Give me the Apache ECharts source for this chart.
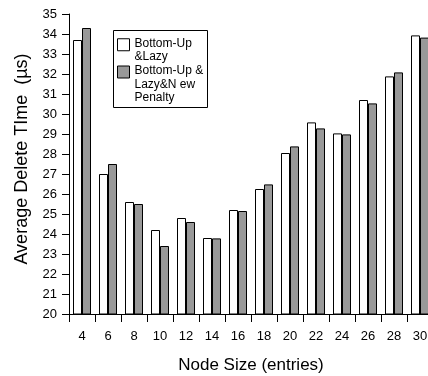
<!DOCTYPE html>
<html>
<head>
<meta charset="utf-8">
<script src="https://cdn.jsdelivr.net/npm/echarts@6/dist/echarts.min.js"></script>
<style>
html,body{margin:0;padding:0;background:#fff;}
#chart{width:428px;height:376px;}
</style>
</head>
<body>
<div id="chart"></div>
<script>
var categories = ['4','6','8','10','12','14','16','18','20','22','24','26','28','30'];
var seriesNames = ['Bottom-Up &Lazy', 'Bottom-Up & Lazy&N ew Penalty'];
var legendLines = [['Bottom-Up', '&Lazy'], ['Bottom-Up &', 'Lazy&N ew', 'Penalty']];
var lazyValues = [33.7, 27.0, 25.6, 24.2, 24.8, 23.8, 25.2, 26.25, 28.05, 29.58, 29.03, 30.7, 31.88, 33.93];
var penaltyValues = [34.3, 27.5, 25.5, 23.4, 24.6, 23.78, 25.15, 26.48, 28.38, 29.28, 28.98, 30.53, 32.08, 33.82];
var yMin = 20, yMax = 35, yInterval = 1;
var xAxisName = 'Node Size (entries)';
var yAxisName = 'Average Delete TIme  (\u00b5s)';

var font = 'Liberation Sans, Arial, sans-serif';
var spacerStyles = ['s1', 's2'];
function legendFormatter(name) {
  var i = seriesNames.indexOf(name);
  var parts = ['{' + spacerStyles[i] + '| }'];
  legendLines[i].forEach(function (l) { parts.push('{t|' + l + '}'); });
  return parts.join('\n');
}
var chart = echarts.init(document.getElementById('chart'));
chart.setOption({
  animation: false,
  backgroundColor: '#fff',
  grid: {left: 69, top: 14, bottom: 62, right: -5, containLabel: false, outerBoundsMode: 'none'},
  graphic: [{
    type: 'rect', z: 3,
    shape: {x: 113.5, y: 30.5, width: 94, height: 77},
    style: {fill: '#fff', stroke: '#000', lineWidth: 1}
  }],
  legend: {
    orient: 'vertical', left: 117, top: 27.25, padding: 0, itemGap: -15,
    itemWidth: 12, itemHeight: 12, icon: 'rect', z: 5,
    itemStyle: {borderColor: '#000', borderWidth: 1},
    formatter: legendFormatter,
    textStyle: {
      fontFamily: font, fontSize: 12, color: '#000',
      rich: {
        t: {fontFamily: font, fontSize: 12, lineHeight: 13.5, color: '#000'},
        s1: {fontSize: 8, lineHeight: 10.5},
        s2: {fontSize: 8, lineHeight: 25}
      }
    },
    data: seriesNames
  },
  xAxis: {
    type: 'category', data: categories,
    name: xAxisName, nameLocation: 'middle', nameGap: 43,
    nameTextStyle: {fontFamily: font, fontSize: 17, color: '#000'},
    axisLine: {lineStyle: {color: '#000', width: 1}},
    axisTick: {show: true, length: 8, lineStyle: {color: '#000'}},
    axisLabel: {fontFamily: font, fontSize: 13, color: '#000', margin: 16, interval: 0},
    splitLine: {show: false}
  },
  yAxis: {
    type: 'value', min: yMin, max: yMax, interval: yInterval,
    name: yAxisName, nameLocation: 'middle', nameGap: 38,
    nameTextStyle: {fontFamily: font, fontSize: 18, color: '#000', padding: [0, 0, 0, 10]},
    axisLine: {show: true, lineStyle: {color: '#000', width: 1}},
    axisTick: {show: true, length: 7, lineStyle: {color: '#000'}},
    axisLabel: {fontFamily: font, fontSize: 13, color: '#000', margin: 12},
    splitLine: {show: false}
  },
  series: [
    {name: seriesNames[0], type: 'bar', data: lazyValues, barWidth: 9, barGap: '0%',
     itemStyle: {color: '#fff', borderColor: '#000', borderWidth: 1}},
    {name: seriesNames[1], type: 'bar', data: penaltyValues, barWidth: 9, barGap: '0%',
     itemStyle: {color: '#999', borderColor: '#000', borderWidth: 1}}
  ]
});
</script>
</body>
</html>
